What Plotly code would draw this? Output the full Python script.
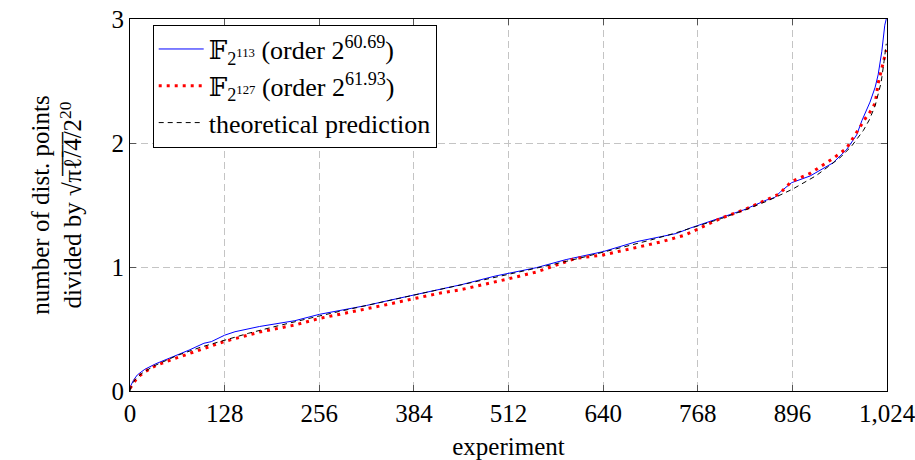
import plotly.graph_objects as go

# ---- data ----
x_f113 = [0, 2, 5, 10, 20, 35, 50, 65, 80, 100, 110, 128, 142, 175, 200, 223, 256, 290, 320,
          350, 384, 420, 450, 494, 512, 550, 590, 640, 685, 720, 739, 757, 798, 830, 861, 872,
          880, 895, 920, 951, 969, 983, 990, 1001, 1008, 1012, 1017, 1021, 1023]
y_f113 = [0.03, 0.06, 0.09, 0.13, 0.175, 0.22, 0.255, 0.295, 0.33, 0.385, 0.398, 0.45, 0.478,
          0.52, 0.546, 0.567, 0.618, 0.655, 0.69, 0.73, 0.774, 0.82, 0.86, 0.927, 0.95, 0.995,
          1.06, 1.124, 1.204, 1.245, 1.27, 1.312, 1.393, 1.46, 1.54, 1.56, 1.607, 1.68, 1.734,
          1.84, 1.944, 2.065, 2.18, 2.33, 2.45, 2.55, 2.74, 2.95, 3.0]

x_f127 = [0, 2, 5, 10, 20, 35, 50, 65, 80, 100, 128, 150, 175, 200, 223, 256, 290, 320, 350,
          384, 420, 450, 494, 512, 550, 603, 640, 685, 720, 751, 798, 830, 861, 877, 880, 895,
          920, 951, 969, 983, 995, 1001, 1008, 1012, 1017, 1021, 1023]
y_f127 = [0.02, 0.04, 0.07, 0.11, 0.155, 0.205, 0.24, 0.27, 0.305, 0.345, 0.40, 0.435, 0.475,
          0.505, 0.532, 0.585, 0.625, 0.66, 0.70, 0.745, 0.79, 0.82, 0.876, 0.905, 0.96, 1.07,
          1.097, 1.16, 1.205, 1.258, 1.39, 1.46, 1.545, 1.585, 1.60, 1.69, 1.755, 1.875, 1.955,
          2.09, 2.20, 2.25, 2.32, 2.48, 2.60, 2.71, 2.75]

x_theory = [0, 2, 8, 16, 32, 64, 96, 128, 160, 192, 224, 256, 288, 320, 352, 384, 416, 448,
            480, 512, 544, 576, 608, 640, 672, 704, 736, 768, 800, 832, 864, 896, 928, 960,
            976, 992, 1000, 1008, 1016, 1020, 1022, 1023]
y_theory = [0.0, 0.05, 0.10, 0.142, 0.201, 0.287, 0.354, 0.412, 0.465, 0.514, 0.561, 0.605,
            0.648, 0.691, 0.732, 0.774, 0.815, 0.856, 0.897, 0.939, 0.982, 1.026, 1.071,
            1.118, 1.166, 1.217, 1.271, 1.329, 1.391, 1.460, 1.537, 1.627, 1.736, 1.879,
            1.974, 2.101, 2.186, 2.301, 2.486, 2.657, 2.75, 2.80]

x_ticks = [0, 128, 256, 384, 512, 640, 768, 896, 1024]
x_ticktext = ["0", "128", "256", "384", "512", "640", "768", "896", "1,024"]
y_ticks = [0, 1, 2, 3]

FONT = "Liberation Serif, DejaVu Serif, serif"
FS = 25

fig = go.Figure()
fig.add_trace(go.Scatter(
    x=x_f113, y=y_f113, mode="lines",
    line=dict(color="#0000ff", width=1),
    name="𝔽<sub>2<sup>113</sup></sub> (order 2<sup>60.69</sup>)"))
fig.add_trace(go.Scatter(
    x=x_f127, y=y_f127, mode="lines",
    line=dict(color="#ff0000", width=3, dash="3px,5px"),
    name="𝔽<sub>2<sup>127</sup></sub> (order 2<sup>61.93</sup>)"))
fig.add_trace(go.Scatter(
    x=x_theory, y=y_theory, mode="lines",
    line=dict(color="#000000", width=1, dash="5px,4px"),
    name="theoretical prediction"))

axis_common = dict(
    showline=True, linecolor="black", linewidth=1, mirror="allticks",
    ticks="inside", ticklen=6, tickcolor="#555555", tickwidth=1,
    showgrid=True, gridcolor="#c4c4c4", gridwidth=1, griddash="7px,4px",
    zeroline=False, automargin=False, ticklabeloverflow="allow",
    tickfont=dict(family=FONT, size=FS, color="black"),
)

fig.update_xaxes(range=[0, 1024], tickvals=x_ticks, ticktext=x_ticktext,
                 title=dict(text="experiment", font=dict(family=FONT, size=FS, color="black"),
                            standoff=14),
                 **axis_common)
fig.update_yaxes(range=[0, 3], tickvals=y_ticks,
                 title=dict(text="number of dist. points<br>divided by √π\u0305ℓ\u0305/\u03054\u0305/2<sup>20</sup>",
                            font=dict(family=FONT, size=FS, color="black"), standoff=22),
                 **axis_common)

fig.update_layout(
    width=915, height=460,
    margin=dict(l=130, r=28, t=19, b=69),
    paper_bgcolor="white", plot_bgcolor="white",
    font=dict(family=FONT, size=FS, color="black"),
    showlegend=True,
    legend=dict(x=0.03, y=0.985, xanchor="left", yanchor="top",
                bgcolor="white", bordercolor="black", borderwidth=1,
                font=dict(family=FONT, size=26, color="black"),
                itemwidth=45, tracegroupgap=0),
)

fig.write_html("out.html", config={"displayModeBar": False, "staticPlot": True})

# remove the default page margin so the figure sits at the window's top-left corner
with open("out.html", "r", encoding="utf-8") as f:
    html = f.read()
html = html.replace("<body>", "<body style=\"margin:0;padding:0;overflow:hidden\">", 1)
with open("out.html", "w", encoding="utf-8") as f:
    f.write(html)
